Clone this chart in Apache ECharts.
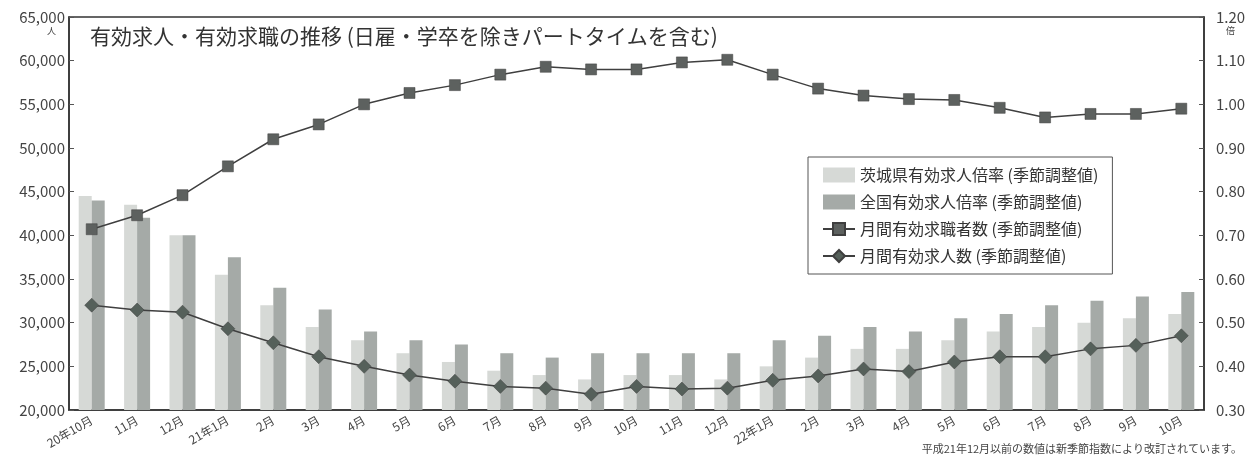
<!DOCTYPE html>
<html>
<head>
<meta charset="utf-8">
<script src="https://cdn.jsdelivr.net/npm/echarts@6/dist/echarts.min.js"></script>
<style>
  html, body { margin: 0; padding: 0; background: #fff; }
  #container { width: 1256px; height: 457px; }
</style>
</head>
<body>
<div id="container"></div>
<script>
const months = ['20年10月', '11月', '12月', '21年1月', '2月', '3月', '4月', '5月', '6月', '7月', '8月', '9月',
    '10月', '11月', '12月', '22年1月', '2月', '3月', '4月', '5月', '6月', '7月', '8月', '9月', '10月']

// 倍率（右軸）
const ibarakiRatio = [0.79, 0.77, 0.70, 0.61, 0.54, 0.49, 0.46, 0.43, 0.41, 0.39, 0.38, 0.37,
    0.38, 0.38, 0.37, 0.40, 0.42, 0.44, 0.44, 0.46, 0.48, 0.49, 0.50, 0.51, 0.52]
const nationalRatio = [0.78, 0.74, 0.70, 0.65, 0.58, 0.53, 0.48, 0.46, 0.45, 0.43, 0.42, 0.43,
    0.43, 0.43, 0.43, 0.46, 0.47, 0.49, 0.48, 0.51, 0.52, 0.54, 0.55, 0.56, 0.57]

// 人数（左軸）
const seekers = [40700, 42300, 44600, 47900, 51000, 52700, 55000, 56300, 57200, 58400, 59300, 59000,
    59000, 59800, 60100, 58400, 56800, 56000, 55600, 55500, 54600, 53500, 53900, 53900, 54500]
const openings = [32000, 31450, 31200, 29300, 27700, 26100, 25000, 24000, 23300, 22700, 22500, 21800,
    22700, 22400, 22500, 23400, 23900, 24700, 24400, 25500, 26100, 26100, 27000, 27400, 28500]

const names = [
    '茨城県有効求人倍率 (季節調整値)',
    '全国有効求人倍率 (季節調整値)',
    '月間有効求職者数 (季節調整値)',
    '月間有効求人数 (季節調整値)'
]

const font = '"Noto Sans CJK JP", "Noto Sans", sans-serif'
const myChart = echarts.init(document.getElementById('container'))

const option = {
    backgroundColor: '#fff',
    animation: false,
    textStyle: { fontFamily: font },
    grid: {
        left: 69,
        right: 52,
        top: 17,
        bottom: 47,
        show: true,
        borderColor: '#333',
        borderWidth: 1.5
    },
    legend: {
        orient: 'vertical',
        left: 808,
        top: 157,
        padding: [10, 14, 10, 14],
        itemGap: 11,
        itemWidth: 32,
        itemHeight: 15,
        backgroundColor: '#fff',
        borderColor: '#555',
        borderWidth: 1,
        textStyle: { fontSize: 16, color: '#333', fontFamily: font },
        data: [
            { name: names[0], icon: 'rect' },
            { name: names[1], icon: 'rect' },
            { name: names[2] },
            { name: names[3] }
        ]
    },
    graphic: [
        {
            type: 'text', left: 90, top: 26,
            style: { text: '有効求人・有効求職の推移 (日雇・学卒を除きパートタイムを含む)', fontSize: 21, fill: '#333', fontFamily: font }
        },
        {
            type: 'text', left: 47, top: 26,
            style: { text: '人', fontSize: 9, fill: '#444', fontFamily: font }
        },
        {
            type: 'text', left: 1226, top: 26,
            style: { text: '倍', fontSize: 9, fill: '#444', fontFamily: font }
        },
        {
            type: 'text', right: 14, top: 443,
            style: { text: '平成21年12月以前の数値は新季節指数により改訂されています。', fontSize: 11, fill: '#444', fontFamily: font }
        }
    ],
    xAxis: {
        type: 'category',
        data: months,
        axisLine: { lineStyle: { color: '#333', width: 1.5 } },
        axisTick: { inside: true, length: 5, lineStyle: { color: '#333' } },
        axisLabel: { rotate: 30, fontSize: 12, color: '#444', margin: 9, interval: 0 }
    },
    yAxis: [
        {
            type: 'value',
            min: 20000,
            max: 65000,
            interval: 5000,
            position: 'left',
            axisLine: { show: true, lineStyle: { color: '#333', width: 1.5 } },
            axisTick: { show: true, inside: true, length: 5, lineStyle: { color: '#555' } },
            splitLine: { show: false },
            axisLabel: {
                fontSize: 15, color: '#444', margin: 4,
                formatter: v => v.toLocaleString('en-US')
            }
        },
        {
            type: 'value',
            min: 0.3,
            max: 1.2,
            interval: 0.1,
            position: 'right',
            axisLine: { show: true, lineStyle: { color: '#333', width: 1.5 } },
            axisTick: { show: true, inside: true, length: 5, lineStyle: { color: '#555' } },
            splitLine: { show: false },
            axisLabel: {
                fontSize: 15, color: '#444', margin: 12,
                formatter: v => v.toFixed(2)
            }
        }
    ],
    series: [
        {
            name: names[0],
            type: 'bar',
            yAxisIndex: 1,
            barWidth: 13,
            barGap: '0%',
            itemStyle: { color: '#d6d9d6' },
            data: ibarakiRatio
        },
        {
            name: names[1],
            type: 'bar',
            yAxisIndex: 1,
            barWidth: 13,
            barGap: '0%',
            itemStyle: { color: '#a5aaa7' },
            data: nationalRatio
        },
        {
            name: names[2],
            type: 'line',
            yAxisIndex: 0,
            symbol: 'rect',
            symbolSize: 11,
            lineStyle: { color: '#3f3f3f', width: 1.5 },
            itemStyle: { color: '#5d615f', borderColor: '#3f3f3f', borderWidth: 0.5 },
            data: seekers
        },
        {
            name: names[3],
            type: 'line',
            yAxisIndex: 0,
            symbol: 'diamond',
            symbolSize: 14,
            lineStyle: { color: '#3f3f3f', width: 1.5 },
            itemStyle: { color: '#55605a', borderColor: '#3f3f3f', borderWidth: 0.5 },
            data: openings
        }
    ]
}

myChart.setOption(option)
</script>
</body>
</html>
